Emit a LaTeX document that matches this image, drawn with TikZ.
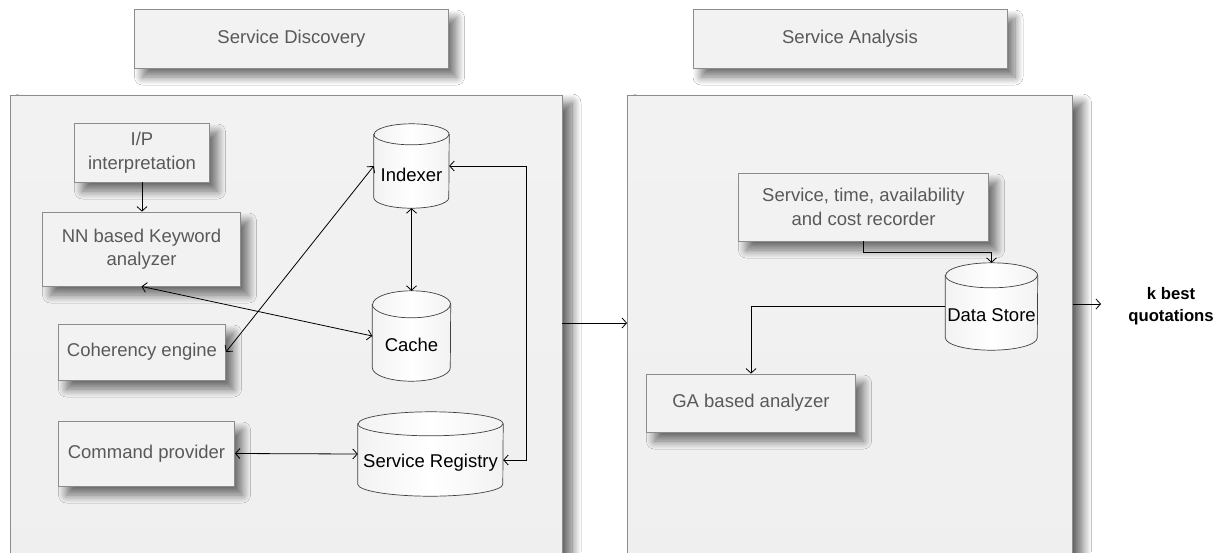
\documentclass[tikz,border=0pt]{standalone}
\usepackage{fontspec}
\setmainfont{Liberation Sans}
\usetikzlibrary{arrows.meta,shadows.blur}

\definecolor{boxline}{HTML}{8C8C8C}
\definecolor{boxfill}{HTML}{F2F2F2}
\definecolor{boxtext}{HTML}{595959}
\definecolor{paneltop}{HTML}{F2F2F2}
\definecolor{panelmid}{HTML}{FBFBFB}
\definecolor{panelbot}{HTML}{EEEEEE}
\definecolor{dbside}{HTML}{F2F2F2}

\tikzset{
  softshadow/.style={blur shadow={shadow xshift=8pt, shadow yshift=-9pt,
      shadow blur radius=8pt, shadow blur steps=14, shadow opacity=55}},
  panelshadow/.style={blur shadow={shadow xshift=10pt, shadow yshift=-8pt,
      shadow blur radius=9pt, shadow blur steps=14, shadow opacity=60}},
  panel/.style={draw=boxline, line width=0.9pt, top color=paneltop,
      middle color=panelmid, bottom color=panelbot, inner sep=0pt, panelshadow},
  box/.style={draw=boxline, line width=0.8pt, fill=boxfill, text=boxtext,
      align=center, inner sep=0pt, softshadow},
  dbframe/.style={inner sep=0pt},
  dbbody/.style={draw=black!75, line width=0.7pt, left color=dbside,
      right color=dbside, middle color=white},
  dbfront/.style={draw=black!75, line width=0.7pt},
  dbtext/.style={text=black, inner sep=0pt},
  link/.style={draw=black, line width=0.8pt,
      -{Straight Barb[length=4.5pt,width=10pt]}},
  link2/.style={link,
      {Straight Barb[length=4.5pt,width=10pt]}-{Straight Barb[length=4.5pt,width=10pt]}},
}

% database cylinder: name, cx, cy, width, height, ellipse y-radius, label
\newcommand\dbnode[7]{%
  \node[dbframe, minimum width=#4pt, minimum height=#5pt] (#1) at (#2,#3) {};
  \path[dbbody] ([yshift=-#6pt]#1.north west) -- ([yshift=#6pt]#1.south west)
    arc[start angle=180, end angle=360, x radius=#4pt/2, y radius=#6pt]
    -- ([yshift=-#6pt]#1.north east)
    arc[start angle=0, end angle=180, x radius=#4pt/2, y radius=#6pt] -- cycle;
  \draw[dbfront] ([yshift=-#6pt]#1.north west)
    arc[start angle=180, end angle=360, x radius=#4pt/2, y radius=#6pt];
  \node[dbtext] (#1-label) at ([yshift=-9pt]#1.center) {#7};
}

\begin{document}
\begin{tikzpicture}[x=1pt, y=-1pt, font=\fontsize{18.5}{23.5}\selectfont]
\useasboundingbox (0,0) rectangle (1217,552);
\clip (0,0) rectangle (1217,552);
\fill[white] (0,0) rectangle (1217,552);

% the two stage panels (they run on below the lower edge)
\node[panel, minimum width=552pt, minimum height=690pt] (disc) at (286,440) {};
\node[panel, minimum width=445pt, minimum height=690pt] (anal) at (850,440) {};

% stage titles
\node[box, minimum width=314pt, minimum height=59pt] (discT) at (291.5,38.5) {Service Discovery};
\node[box, minimum width=314pt, minimum height=59pt] (analT) at (850,38.5) {Service Analysis};

% discovery components
\node[box, minimum width=135pt, minimum height=59pt] (ip) at (142,152.5) {I/P\\interpretation};
\node[box, minimum width=198pt, minimum height=74pt] (nn) at (141.5,249) {NN based Keyword\\analyzer};
\node[box, minimum width=167pt, minimum height=56pt] (coh) at (142,352) {Coherency engine};
\node[box, minimum width=176pt, minimum height=65pt] (cmd) at (146.5,453.5) {Command provider};

\dbnode{idx}{411.5}{166}{75}{84}{10.5}{Indexer}
\dbnode{cache}{411.5}{336}{78}{90}{13.5}{Cache}
\dbnode{reg}{430.5}{454}{145}{84}{12}{Service Registry}

% analysis components
\node[box, minimum width=250pt, minimum height=68pt] (rec) at (863.5,207) {Service, time, availability\\and cost recorder};
\node[box, minimum width=209pt, minimum height=58pt] (ga) at (751,403) {GA based analyzer};
\dbnode{ds}{991.5}{306.5}{92}{87}{12.5}{Data Store}

% connectors inside discovery
\draw[link] (ip.south) -- (ip.south |- nn.north);
\draw[link2] (idx.south) -- (cache.north);
\draw[link2] (nn.south) -- (cache.west);
\draw[link2] (coh.east) -- (idx.west);
\draw[link2] (cmd.east) -- (reg.west);
\coordinate (bus) at (526.5,0);
\draw[link2] (idx.east) -- (idx.east -| bus) |- ([yshift=-6pt]reg.east);

% discovery feeds analysis
\coordinate (feed) at (0,323);
\draw[link] (disc.east |- feed) -- (anal.west |- feed);

% connectors inside analysis
\draw[link] (rec.south) -- ++(0,11) -| (ds.north);
\draw[link] (ds.west) -| (ga.north);

% result
\coordinate (out) at (1101,304);
\draw[link] (anal.east |- out) -- (out);
\node[font=\bfseries\fontsize{16.7}{22}\selectfont, align=center, inner sep=0pt] (kbest) at (1171,306) {k best\\quotations};
\end{tikzpicture}
\end{document}
